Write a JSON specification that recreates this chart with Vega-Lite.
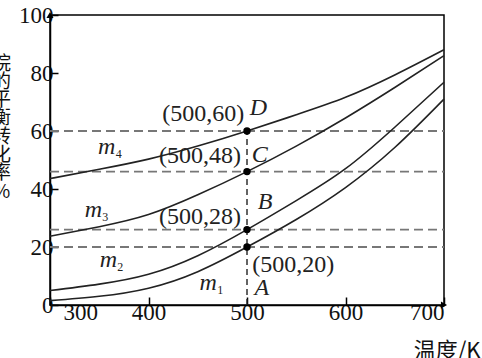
{
  "$schema": "https://vega.github.io/schema/vega-lite/v6.json",
  "width": 394,
  "height": 290,
  "autosize": "none",
  "padding": {"left": 50, "top": 15, "right": 38, "bottom": 53},
  "background": "white",
  "config": {
    "view": {"stroke": "black", "strokeWidth": 1.5},
    "axis": {
      "grid": false,
      "domainColor": "black",
      "domainWidth": 1.5,
      "tickColor": "black",
      "tickWidth": 1.5,
      "labelColor": "#111111",
      "labelFont": "Liberation Serif",
      "labelFontSize": 23,
      "titleColor": "#111111"
    }
  },
  "datasets": {
    "curves": [
      {"series": "m4", "T": 300, "v": 43.6}, {"series": "m4", "T": 350, "v": 46.8}, {"series": "m4", "T": 400, "v": 50.3}, {"series": "m4", "T": 450, "v": 54.8}, {"series": "m4", "T": 500, "v": 60}, {"series": "m4", "T": 550, "v": 65.6}, {"series": "m4", "T": 600, "v": 71.6}, {"series": "m4", "T": 650, "v": 79.3}, {"series": "m4", "T": 700, "v": 88},
      {"series": "m3", "T": 300, "v": 23.7}, {"series": "m3", "T": 350, "v": 27}, {"series": "m3", "T": 400, "v": 31.2}, {"series": "m3", "T": 450, "v": 38}, {"series": "m3", "T": 500, "v": 46}, {"series": "m3", "T": 550, "v": 54.8}, {"series": "m3", "T": 600, "v": 64.5}, {"series": "m3", "T": 650, "v": 75}, {"series": "m3", "T": 700, "v": 86},
      {"series": "m2", "T": 300, "v": 5}, {"series": "m2", "T": 350, "v": 7.2}, {"series": "m2", "T": 400, "v": 10.6}, {"series": "m2", "T": 450, "v": 17}, {"series": "m2", "T": 500, "v": 26}, {"series": "m2", "T": 550, "v": 36}, {"series": "m2", "T": 600, "v": 47}, {"series": "m2", "T": 650, "v": 61.3}, {"series": "m2", "T": 700, "v": 76.8},
      {"series": "m1", "T": 300, "v": 1.5}, {"series": "m1", "T": 350, "v": 3}, {"series": "m1", "T": 400, "v": 5.8}, {"series": "m1", "T": 450, "v": 11.5}, {"series": "m1", "T": 500, "v": 20}, {"series": "m1", "T": 550, "v": 29.5}, {"series": "m1", "T": 600, "v": 40.5}, {"series": "m1", "T": 650, "v": 54.3}, {"series": "m1", "T": 700, "v": 71}
    ],
    "hlines": [
      {"v": 60, "T1": 300, "T2": 700},
      {"v": 46, "T1": 300, "T2": 700},
      {"v": 26, "T1": 300, "T2": 700},
      {"v": 20, "T1": 300, "T2": 700}
    ],
    "vline": [
      {"T": 500, "v1": 0, "v2": 60}
    ],
    "points": [
      {"T": 500, "v": 60}, {"T": 500, "v": 46}, {"T": 500, "v": 26}, {"T": 500, "v": 20}
    ],
    "coords": [
      {"label": "(500,60)", "T": 455.6, "v": 65.9},
      {"label": "(500,48)", "T": 452.3, "v": 51.4},
      {"label": "(500,28)", "T": 452.3, "v": 30.2},
      {"label": "(500,20)", "T": 547, "v": 13.8}
    ],
    "letters": [
      {"label": "D", "T": 511.5, "v": 67.8},
      {"label": "C", "T": 513, "v": 51.7},
      {"label": "B", "T": 518.3, "v": 35.6},
      {"label": "A", "T": 515, "v": 5.8}
    ],
    "mlabels": [
      {"label": "m", "sub": "4", "T": 357.5, "v": 54.6},
      {"label": "m", "sub": "3", "T": 344, "v": 32.8},
      {"label": "m", "sub": "2", "T": 359.2, "v": 15.5},
      {"label": "m", "sub": "1", "T": 460.7, "v": 7.5}
    ],
    "arrows": [
      {"T": 300, "v": 100, "shape": "triangle-up"},
      {"T": 700, "v": 0, "shape": "triangle-right"}
    ]
  },
  "layer": [
    {
      "data": {"name": "hlines"},
      "mark": {"type": "rule", "stroke": "#777777", "strokeWidth": 1.8, "strokeDash": [9, 5]},
      "encoding": {
        "x": {"field": "T1", "type": "quantitative", "scale": {"domain": [300, 700], "nice": false, "zero": false},
          "axis": {"values": [300, 400, 500, 600, 700], "tickSize": -8, "labelPadding": 4,
            "labelOffset": {"expr": "datum.value == 300 ? 13 : 0"},
            "title": "温度/K", "titleFont": "Noto Sans CJK SC", "titleFontSize": 22, "titleFontWeight": "normal",
            "titleAlign": "right", "titleX": 430, "titleY": 35, "titleBaseline": "top"}},
        "x2": {"field": "T2"},
        "y": {"field": "v", "type": "quantitative", "scale": {"domain": [0, 100], "nice": false},
          "axis": {"values": [0, 20, 40, 60, 80, 100], "tickSize": -8, "labelPadding": 5,
            "title": ["烷", "的", "平", "衡", "转", "化", "率", "%"], "titleFont": "Noto Sans CJK SC", "titleFontSize": 19, "titleFontWeight": "normal",
            "titleAngle": 0, "titleAlign": "center", "titleBaseline": "top", "titleX": -49, "titleY": 39, "titleLineHeight": 18.3}}
      }
    },
    {
      "data": {"name": "vline"},
      "mark": {"type": "rule", "stroke": "#222222", "strokeWidth": 1.4, "strokeDash": [6, 4]},
      "encoding": {
        "x": {"field": "T", "type": "quantitative"},
        "y": {"field": "v1", "type": "quantitative"},
        "y2": {"field": "v2"}
      }
    },
    {
      "data": {"name": "curves"},
      "mark": {"type": "line", "color": "#222222", "strokeWidth": 1.6, "interpolate": "natural"},
      "encoding": {
        "x": {"field": "T", "type": "quantitative"},
        "y": {"field": "v", "type": "quantitative"},
        "detail": {"field": "series", "type": "nominal"}
      }
    },
    {
      "data": {"name": "points"},
      "mark": {"type": "point", "filled": true, "color": "black", "size": 55, "opacity": 1},
      "encoding": {
        "x": {"field": "T", "type": "quantitative"},
        "y": {"field": "v", "type": "quantitative"}
      }
    },
    {
      "data": {"name": "arrows"},
      "mark": {"type": "point", "filled": true, "color": "black", "size": 50, "opacity": 1},
      "encoding": {
        "x": {"field": "T", "type": "quantitative"},
        "y": {"field": "v", "type": "quantitative"},
        "shape": {"field": "shape", "type": "nominal", "scale": null}
      }
    },
    {
      "data": {"name": "coords"},
      "mark": {"type": "text", "font": "Liberation Serif", "fontSize": 24, "color": "#222222", "baseline": "middle"},
      "encoding": {
        "x": {"field": "T", "type": "quantitative"},
        "y": {"field": "v", "type": "quantitative"},
        "text": {"field": "label", "type": "nominal"}
      }
    },
    {
      "data": {"name": "letters"},
      "mark": {"type": "text", "font": "Liberation Serif", "fontStyle": "italic", "fontSize": 24, "color": "#222222", "baseline": "middle"},
      "encoding": {
        "x": {"field": "T", "type": "quantitative"},
        "y": {"field": "v", "type": "quantitative"},
        "text": {"field": "label", "type": "nominal"}
      }
    },
    {
      "data": {"name": "mlabels"},
      "mark": {"type": "text", "font": "Liberation Serif", "fontStyle": "italic", "fontSize": 24, "color": "#222222", "baseline": "middle"},
      "encoding": {
        "x": {"field": "T", "type": "quantitative"},
        "y": {"field": "v", "type": "quantitative"},
        "text": {"field": "label", "type": "nominal"}
      }
    },
    {
      "data": {"name": "mlabels"},
      "mark": {"type": "text", "font": "Liberation Serif", "fontSize": 12, "color": "#222222", "baseline": "middle", "dx": 12, "dy": 7},
      "encoding": {
        "x": {"field": "T", "type": "quantitative"},
        "y": {"field": "v", "type": "quantitative"},
        "text": {"field": "sub", "type": "nominal"}
      }
    }
  ]
}
